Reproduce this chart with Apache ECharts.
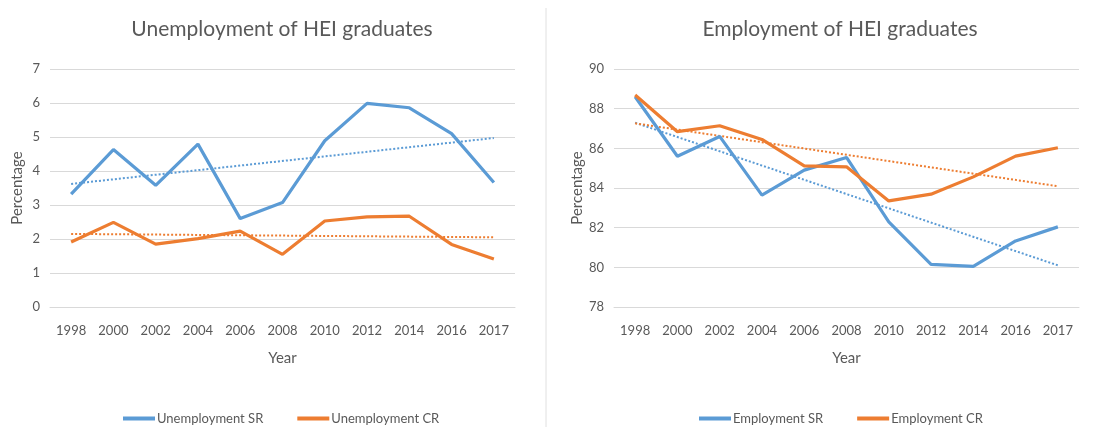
<!DOCTYPE html>
<html><head><meta charset="utf-8">
<script src="https://cdn.jsdelivr.net/npm/echarts@6/dist/echarts.min.js"></script>
<style>html,body{margin:0;padding:0;background:#fff}#c{width:1100px;height:427px}</style>
</head><body><div id="c"></div>
<script>
const years = ['1998','2000','2002','2004','2006','2008','2010','2012','2014','2016','2017'];
const unempSR = [3.32,4.63,3.58,4.79,2.60,3.07,4.89,5.99,5.86,5.10,3.66];
const unempCR = [1.91,2.49,1.85,2.01,2.23,1.55,2.53,2.65,2.67,1.84,1.41];
const empSR = [88.6,85.6,86.6,83.64,84.9,85.54,82.29,80.15,80.05,81.33,82.04];
const empCR = [88.69,86.84,87.14,86.45,85.12,85.07,83.35,83.69,84.56,85.61,86.03];
// trendline end points (first year, last year)
const trendUnempSR = [3.62, 4.97];
const trendUnempCR = [2.15, 2.05];
const trendEmpSR = [87.29, 80.1];
const trendEmpCR = [87.26, 84.09];
const leftTicks = {min:0, max:7, interval:1};
const rightTicks = {min:78, max:90, interval:2};

const BLUE = '#5B9BD5', ORANGE = '#ED7D31', TXT = '#595959', GRIDC = '#d9d9d9';
const FONT = 'Lato';

function trend(arr){ return [[years[0], arr[0]], [years[years.length-1], arr[1]]]; }

function xAx(gi){
  return {type:'category', gridIndex:gi, data:years, boundaryGap:true,
    name:'Year', nameLocation:'middle', nameGap:44,
    nameTextStyle:{color:TXT, fontSize:15, fontFamily:FONT},
    axisLine:{show:true, lineStyle:{color:GRIDC}}, axisTick:{show:false},
    axisLabel:{color:TXT, fontSize:13, fontFamily:FONT, margin:17, interval:0}};
}
function yAx(gi, t){
  return {type:'value', gridIndex:gi, min:t.min, max:t.max, interval:t.interval,
    name:'Percentage', nameLocation:'middle', nameGap:25, nameRotate:90,
    nameTextStyle:{color:TXT, fontSize:15, fontFamily:FONT},
    axisLine:{show:false}, axisTick:{show:false},
    splitLine:{lineStyle:{color:GRIDC, width:1}},
    axisLabel:{color:TXT, fontSize:13, fontFamily:FONT, margin:10}};
}
function line(name, data, color, xi){
  return {name, type:'line', xAxisIndex:xi, yAxisIndex:xi, data, symbol:'none',
    lineStyle:{color, width:3.2}, itemStyle:{color}};
}
function tline(data, color, xi){
  return {type:'line', xAxisIndex:xi, yAxisIndex:xi, data:trend(data), symbol:'none',
    lineStyle:{color, width:2, type:[2,2]}, itemStyle:{color}, silent:true, z:1};
}

const chart = echarts.init(document.getElementById('c'), null, {renderer:'canvas'});
chart.setOption({
  animation:false,
  backgroundColor:'#fff',
  title:[
    {text:'Unemployment of HEI graduates', left:277, top:14, textAlign:'center',
     textStyle:{color:TXT, fontSize:21, fontWeight:'normal', fontFamily:FONT}},
    {text:'Employment of HEI graduates', left:835, top:14, textAlign:'center',
     textStyle:{color:TXT, fontSize:21, fontWeight:'normal', fontFamily:FONT}}
  ],
  grid:[
    {left:50, top:69, width:465, height:238},
    {left:614, top:69, width:465, height:238}
  ],
  xAxis:[xAx(0), xAx(1)],
  yAxis:[yAx(0, leftTicks), yAx(1, rightTicks)],
  legend:[
    {data:['Unemployment SR','Unemployment CR'], left:118, top:407,
     itemWidth:32, itemHeight:4, itemGap:34, icon:'rect',
     textStyle:{color:TXT, fontSize:13, fontFamily:FONT, padding:[0,0,0,-3]}},
    {data:['Employment SR','Employment CR'], left:694, top:407,
     itemWidth:32, itemHeight:4, itemGap:34, icon:'rect',
     textStyle:{color:TXT, fontSize:13, fontFamily:FONT, padding:[0,0,0,-3]}}
  ],
  graphic:[
    {type:'line', shape:{x1:546, y1:8, x2:546, y2:427}, style:{stroke:'#e0e0e0', lineWidth:1}}
  ],
  series:[
    tline(trendUnempSR, BLUE, 0),
    tline(trendUnempCR, ORANGE, 0),
    line('Unemployment SR', unempSR, BLUE, 0),
    line('Unemployment CR', unempCR, ORANGE, 0),
    tline(trendEmpSR, BLUE, 1),
    tline(trendEmpCR, ORANGE, 1),
    line('Employment SR', empSR, BLUE, 1),
    line('Employment CR', empCR, ORANGE, 1)
  ]
});
</script></body></html>
